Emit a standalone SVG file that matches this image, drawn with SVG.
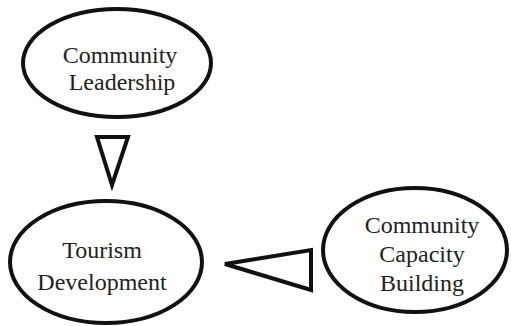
<svg xmlns="http://www.w3.org/2000/svg" width="511" height="326" viewBox="0 0 511 326">
  <style>
    .node { fill: #ffffff; stroke: #111111; stroke-width: 4; }
    .label { font-family: "Liberation Serif", "Times New Roman", serif; font-size: 24px; fill: #222222; text-anchor: middle; }
    .arrow { fill: #ffffff; stroke: #111111; stroke-width: 4; stroke-linejoin: miter; }
  </style>
  <rect width="511" height="326" fill="#ffffff"/>
  <g id="connectors">
    <polygon class="arrow" points="97,137 128,137 112,185"/>
    <polygon class="arrow" points="311,250 311,290 225,264"/>
  </g>
  <g id="community-leadership">
    <ellipse class="node" cx="117" cy="63" rx="94" ry="54"/>
    <text class="label" x="120" y="63">Community</text>
    <text class="label" x="122" y="90">Leadership</text>
  </g>
  <g id="tourism-development">
    <ellipse class="node" cx="106" cy="262" rx="96" ry="61"/>
    <text class="label" x="102" y="258">Tourism</text>
    <text class="label" x="102" y="290">Development</text>
  </g>
  <g id="community-capacity-building">
    <ellipse class="node" cx="415" cy="250" rx="92" ry="62"/>
    <text class="label" x="422" y="233">Community</text>
    <text class="label" x="422" y="262">Capacity</text>
    <text class="label" x="422" y="291">Building</text>
  </g>
</svg>
